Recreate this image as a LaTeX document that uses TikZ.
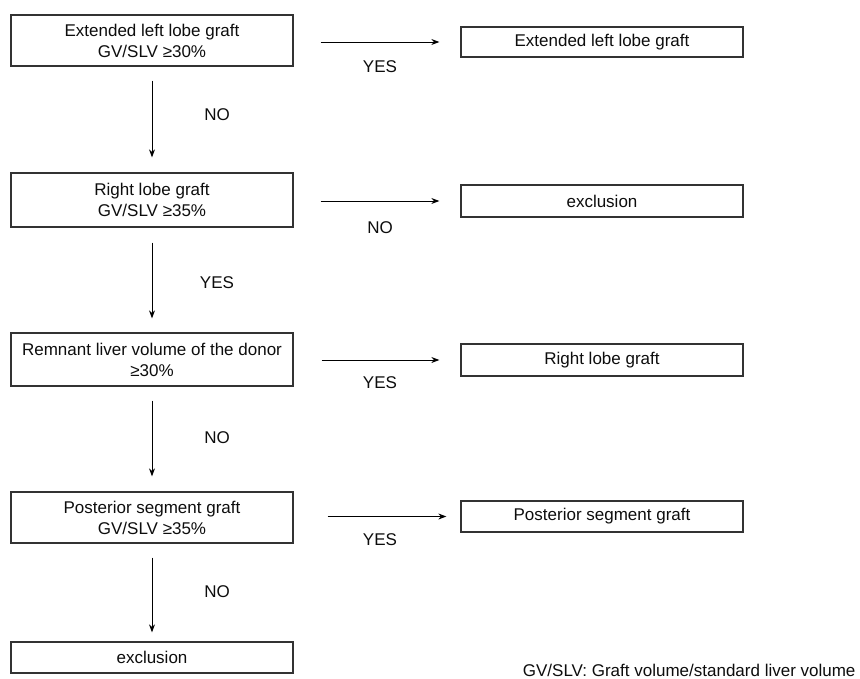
\documentclass[tikz,border=0pt]{standalone}
\usepackage{fontspec}
\setmainfont{Liberation Sans}
\usetikzlibrary{arrows.meta}

\begin{document}
\begin{tikzpicture}[
        x=1pt, y=-1pt,
        box/.style={draw=black!80, line width=1.3pt, minimum width=282pt, inner sep=0pt, align=center},
        pile/.style={line width=1pt, -{Stealth[length=8pt, width=6pt]}},
        every node/.style={color=black!95, font=\fontsize{17}{21}\selectfont}
    ]
    \useasboundingbox (0,0) rectangle (860,678);

    % left column
    \draw (152,40.5) node(l1)[box, minimum height=51pt]{Extended left lobe graft\\GV/SLV ≥30\%};
    \draw (152,200) node(l2)[box, minimum height=54pt]{Right lobe graft\\GV/SLV ≥35\%};
    \draw (152,359.5) node(l3)[box, minimum height=53pt]{Remnant liver volume of the donor\\≥30\%};
    \draw (152,517.5) node(l4)[box, minimum height=51pt]{Posterior segment graft\\GV/SLV ≥35\%};
    \draw (152,657.5) node(l5)[box, minimum height=31pt]{exclusion};

    % right column
    \draw (602,42) node(r1)[box, minimum height=30pt]{Extended left lobe graft};
    \draw (602,201) node(r2)[box, minimum height=32pt]{exclusion};
    \draw (602,360) node(r3)[box, minimum height=32pt]{Right lobe graft};
    \draw (602,516.5) node(r4)[box, minimum height=31pt]{Posterior segment graft};

    \draw [pile, shorten <=14pt, shorten >=15pt] (l1) -- (l2);
    \draw [pile, shorten <=15pt, shorten >=14pt] (l2) -- (l3);
    \draw [pile, shorten <=14pt, shorten >=15pt] (l3) -- (l4);
    \draw [pile, shorten <=14pt, shorten >=9pt] (l4) -- (l5);

    \draw [pile, shorten <=27pt, shorten >=21pt] (l1.east |- r1) -- (r1);
    \draw [pile, shorten <=27pt, shorten >=21pt] (l2.east |- r2) -- (r2);
    \draw [pile, shorten <=28pt, shorten >=21pt] (l3.east |- r3) -- (r3);
    \draw [pile, shorten <=34pt, shorten >=14pt] (l4.east |- r4) -- (r4);

    \draw (217,115) node(n1){NO};
    \draw (217,283) node(y2){YES};
    \draw (217,438) node(n3){NO};
    \draw (217,592) node(n4){NO};

    \draw (380,67) node(y1){YES};
    \draw (380,228) node(n2){NO};
    \draw (380,383) node(y3){YES};
    \draw (380,540) node(y4){YES};

    \draw (859,670) node(note)[anchor=east]{GV/SLV: Graft volume/standard liver volume};

\end{tikzpicture}
\end{document}
